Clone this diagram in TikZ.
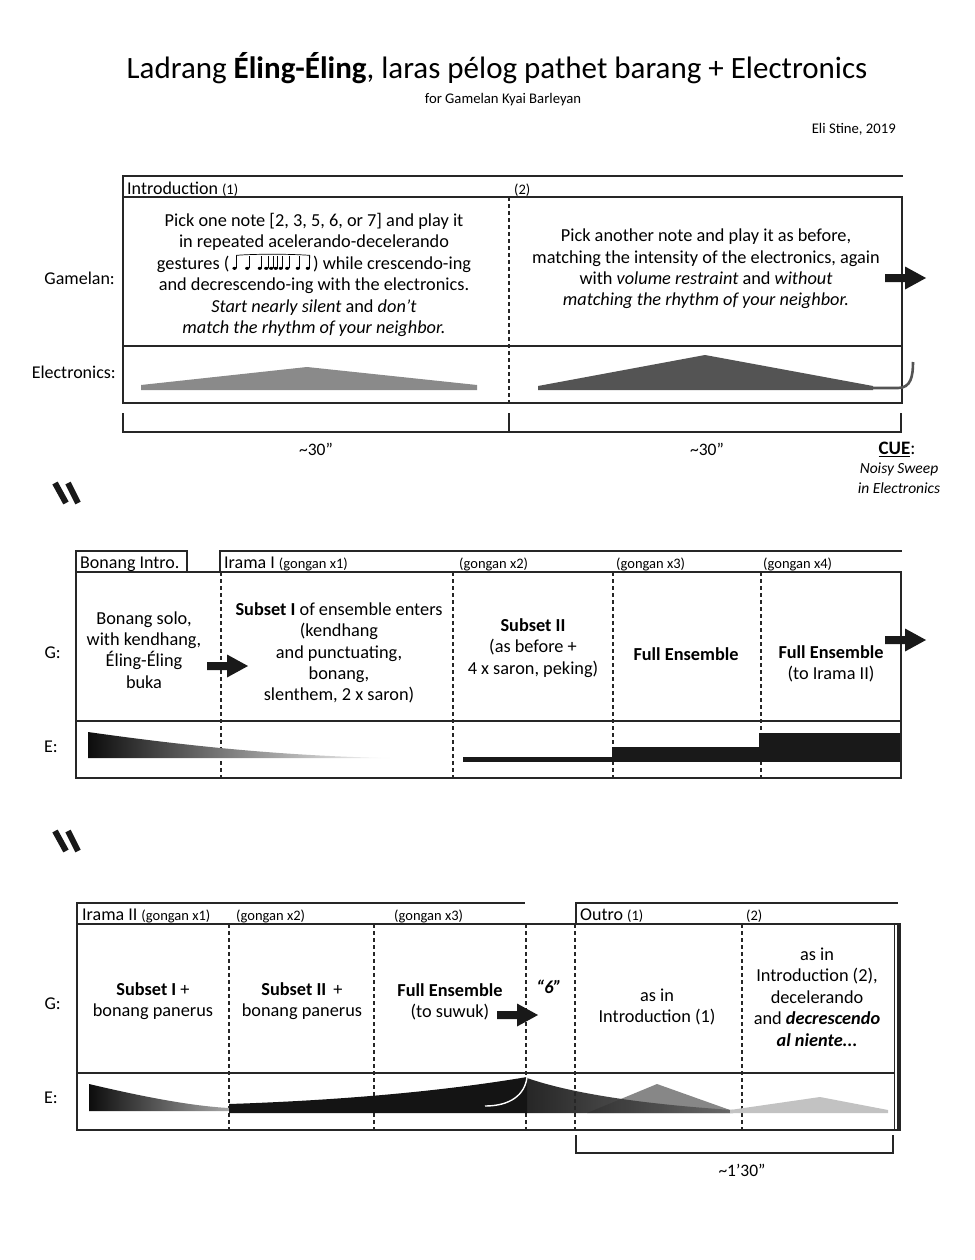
\documentclass[tikz,border=0pt]{standalone}
\usepackage{fontspec}
\setmainfont{Carlito}
\usetikzlibrary{calc}
\newcommand\myfs[2]{\fontsize{#1}{#2}\selectfont}
\newcommand\gest{\tikz[baseline=0pt,x=1pt,y=1pt,line width=0.7pt,line cap=butt]{%
  \foreach \p in {0,12.7,25.3,31.7,36.7,41.3,46.3,52.7,63.3,73.3}{%
    \fill (\p,1) ellipse (2.1pt and 1.5pt);
    \draw (\p+1.9,1) -- (\p+1.9,13);}
  \draw (1.9,11) -- (1.9,14) .. controls (20,15.5) and (55,15.5) .. (75.2,14) -- (75.2,11);}}
\begin{document}
\begin{tikzpicture}[x=1pt,y=-1pt,
  frame/.style={line width=1.5pt, draw=black!85},
  sep/.style={dash pattern=on 4pt off 3pt, line width=1.1pt, draw=black!85},
  body/.style={align=center, inner sep=0pt, font=\myfs{18.3}{21.4}},
  head/.style={anchor=base west, inner sep=0pt, font=\myfs{18}{18}},
  small/.style={anchor=base west, inner sep=0pt, font=\myfs{14.5}{14.5}},
  rowlabel/.style={anchor=east, inner sep=0pt, font=\myfs{18}{18}},
  barrow/.pic={\fill[black!90] (-20,-4) -- (0,-4) -- (0,-11.5) -- (21,0) -- (0,11.5) -- (0,4) -- (-20,4) -- cycle;},
  slashes/.pic={\draw[line width=6pt, line cap=butt, black!90] (-12,-10) -- (-1,10) (1,-10) -- (11,10);}
]
\useasboundingbox (0,0) rectangle (974,1260);
\fill[white] (0,0) rectangle (974,1260);

% ---------- title ----------
\node[font=\myfs{31}{36}, inner sep=0pt] (title) at (497,68) {Ladrang \textbf{Éling-Éling}, laras pélog pathet barang + Electronics};
\node[font=\myfs{14.7}{15}, inner sep=0pt] (subtitle) at (503,100) {for Gamelan Kyai Barleyan};
\node[font=\myfs{14.7}{15}, inner sep=0pt, anchor=east] (author) at (896,129) {Eli Stine, 2019};

% ---------- system 1 ----------
\draw[frame] (123,197) -- (123,176) -- (903,176);
\draw[frame] (123,197) rectangle (902,403);
\draw[frame] (123,346) -- (902,346);
\draw[sep] (509,197) -- (509,403);
\node[head] (intro1) at (127,194) {Introduction {\myfs{14.5}{14.5}(1)}};
\node[small] (intro2) at (514,194) {(2)};
\node[rowlabel] (lgam) at (115,278) {Gamelan:};
\node[rowlabel] (lel) at (116,372) {Electronics:};
\node[body] (t1) at (314,275) {Pick one note [2, 3, 5, 6, or 7] and play it\\
in repeated acelerando-decelerando\\
gestures (\,\gest\,) while crescendo-ing\\
and decrescendo-ing with the electronics.\\
\textit{Start nearly silent} and \textit{don’t}\\
\textit{match the rhythm of your neighbor.}};
\node[body] (t2) at (706,269) {Pick another note and play it as before,\\
matching the intensity of the electronics, again\\
with \textit{volume restraint} and \textit{without}\\
\textit{matching the rhythm of your neighbor.}};
\pic at (905,278) {barrow};
\fill[black!46] (141,390) -- (141,385) -- (307,367) -- (477,385) -- (477,390) -- cycle;
\fill[black!67] (538,390) -- (538,386) -- (705,355) -- (873,386) -- (873,390) -- cycle;
\draw[black!67, line width=2.6pt] (872,388) -- (898,388) .. controls (911,388) and (913,376) .. (913,362);
\draw[frame] (123,413) -- (123,432) -- (901,432) -- (901,413);
\draw[frame] (509,413) -- (509,432);
\node[font=\myfs{17.5}{17.5}, inner sep=0pt] (d1) at (316,449) {\char`\~30”};
\node[font=\myfs{17.5}{17.5}, inner sep=0pt] (d2) at (707,449) {\char`\~30”};
\node[font=\myfs{19}{19}, inner sep=0pt] (cue) at (897,449) {\textbf{\underline{CUE}}:};
\node[font=\myfs{15.5}{19.5}\itshape, inner sep=0pt, align=center] (cuetxt) at (899,478) {Noisy Sweep\\in Electronics};
\pic at (67,493) {slashes};

% ---------- system 2 ----------
\draw[frame] (76,551) rectangle (187,572);
\draw[frame] (220,572) -- (220,551) -- (902,551);
\draw[frame] (76,572) rectangle (901,778);
\draw[frame] (76,721) -- (901,721);
\foreach \xx in {221,453,613,761} \draw[sep] (\xx,572) -- (\xx,778);
\node[head] (bint) at (80,568) {Bonang Intro.};
\node[head] (ir1) at (224,568) {Irama I {\myfs{14.5}{14.5}(gongan x1)}};
\node[small] (g2) at (459,568) {(gongan x2)};
\node[small] (g3) at (616,568) {(gongan x3)};
\node[small] (g4) at (763,568) {(gongan x4)};
\node[rowlabel] (lg2) at (61,653) {G:};
\node[rowlabel] (le2) at (58,747) {E:};
\node[body] (b1) at (144,650) {Bonang solo,\\with kendhang,\\Éling-Éling\\buka};
\node[body] (b2) at (339,653) {\textbf{Subset I} of ensemble enters\\(kendhang\\and punctuating,\\bonang,\\slenthem, 2 x saron)};
\node[body] (b3) at (533,648) {\textbf{Subset II}\\(as before +\\4 x saron, peking)};
\node[body] (b4) at (686,654) {\textbf{Full Ensemble}};
\node[body] (b5) at (831,664) {\textbf{Full Ensemble}\\(to Irama II)};
\pic at (227,666) {barrow};
\pic at (905,640) {barrow};
\shade[left color=black!95, right color=white] (88,732) .. controls (180,745) and (280,756) .. (390,758) -- (88,758) -- cycle;
\fill[black!90] (463,757) rectangle (613,762);
\fill[black!90] (612,747) rectangle (760,762);
\fill[black!90] (759,733) rectangle (900,762);
\pic at (67,841) {slashes};

% ---------- system 3 ----------
\draw[frame] (77,924) -- (77,903) -- (525,903);
\draw[frame] (576,924) -- (576,903) -- (898,903);
\draw[frame] (899,924) -- (77,924) -- (77,1130) -- (899,1130);
\draw[frame] (77,1073) -- (894,1073);
\foreach \xx in {229,374,526,575,742} \draw[sep] (\xx,924) -- (\xx,1130);
\draw[line width=1pt, black!85] (894,924) -- (894,1130);
\draw[line width=3.6pt, black!85] (899,923) -- (899,1131);
\node[head] (ir2) at (82,920) {Irama II {\myfs{14.5}{14.5}(gongan x1)}};
\node[small] (h32) at (236,920) {(gongan x2)};
\node[small] (h33) at (394,920) {(gongan x3)};
\node[head] (out1) at (580,920) {Outro {\myfs{14.5}{14.5}(1)}};
\node[small] (out2) at (746,920) {(2)};
\node[rowlabel] (lg3) at (61,1004) {G:};
\node[rowlabel] (le3) at (58,1098) {E:};
\node[body] (c1) at (153,1001) {\textbf{Subset I} +\\bonang panerus};
\node[body] (c2) at (302,1001) {\textbf{Subset II} \,+\\bonang panerus};
\node[body] (c3) at (450,1002) {\textbf{Full Ensemble}\\(to suwuk)};
\node[body] (c4) at (549,987) {\textbf{\textit{“6”}}};
\node[body] (c5) at (657,1007) {as in\\Introduction (1)};
\node[body] (c6) at (817,997) {as in\\Introduction (2),\\decelerando\\and \textbf{\textit{decrescendo}}\\\textbf{\textit{al niente...}}};
\pic at (517,1015) {barrow};
% electronics
\shade[left color=black!95, right color=black!35] (89,1084) .. controls (140,1096) and (190,1106) .. (229,1108) -- (229,1111) -- (89,1111) -- cycle;
\fill[black!92] (229,1104) .. controls (350,1100) and (450,1090) .. (527,1077) -- (527,1113) -- (229,1113) -- cycle;
\fill[black!47] (587,1113) -- (657,1084) -- (730,1110) -- (730,1113) -- cycle;
\shade[left color=black!92, right color=black!60, opacity=0.92] (527,1078) .. controls (570,1093) and (640,1104) .. (733,1110) -- (733,1113) -- (527,1113) -- cycle;
\fill[black!24] (730,1110) -- (820,1097) -- (888,1110) -- (888,1113) -- (730,1113) -- cycle;
\draw[white, line width=1.4pt] (527,1077) .. controls (525,1095) and (510,1106) .. (485,1106);
\draw[frame] (576,1135) -- (576,1153) -- (893,1153) -- (893,1135);
\node[font=\myfs{17.5}{17.5}, inner sep=0pt] (d3) at (742,1170) {\char`\~1’30”};
\end{tikzpicture}
\end{document}
